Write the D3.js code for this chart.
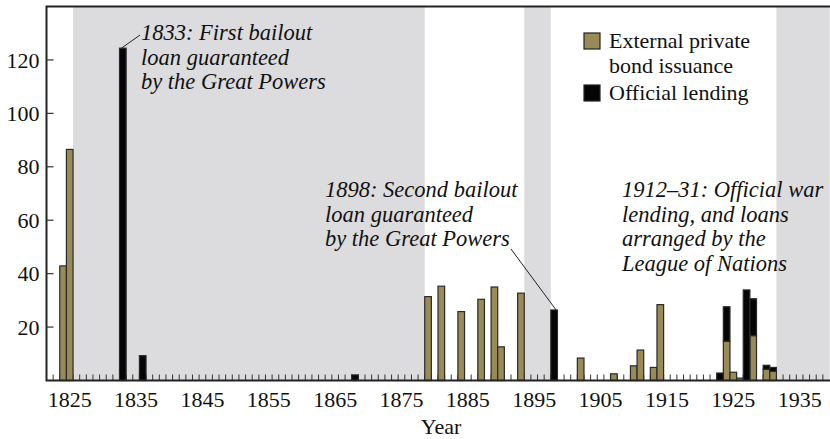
<!DOCTYPE html>
<html><head><meta charset="utf-8">
<script src="https://cdn.jsdelivr.net/npm/d3@7"></script>
<style>body{margin:0;background:#fff}svg{display:block}</style>
</head><body>
<svg id="chart" width="830" height="439"></svg>
<script>
const years    = [1824,1825,1833,1836,1868,1879,1881,1884,1887,1889,1890,1893,1898,1902,1907,1910,1911,1913,1914,1923,1924,1925,1926,1927,1928,1930,1931];
const privateBonds = [42.9,86.5,0,0,0,31.4,35.3,25.8,30.4,35,12.6,32.7,0,8.4,2.5,5.5,11.4,4.9,28.4,0,14.7,3.1,0.9,0,16.8,4.2,3.4];
const officialLending = [0,0,124.4,9.3,2.1,0,0,0,0,0,0,0,26.4,0,0,0,0,0,0,2.8,12.9,0,0,33.9,13.8,1.5,1.5];
const defaultPeriods = [[1826,1878],[1894,1897],[1932,1939]];
const yTicks = [20,40,60,80,100,120];
const xTickLabels = [1825,1835,1845,1855,1865,1875,1885,1895,1905,1915,1925,1935];
const seriesNames = ["External private bond issuance","Official lending"];
const colors = ["#988b58","#050505"];

(function(){
const svg = d3.select("#chart");
const pL = 46.5, pR = 829.5, pT = 6.5, pB = 380.5;
const x = d3.scaleLinear().domain([1821.5,1939.5]).range([pL,pR]);
const y = d3.scaleLinear().domain([0,140]).range([pB,pT]);
const font = "'Liberation Serif','Times New Roman',serif";
const fs = 22, fsi = 22.5;

svg.append("g").selectAll("rect").data(defaultPeriods).join("rect")
  .attr("x", d=>x(d[0]-0.5)).attr("width", d=>Math.min(x(d[1]+0.5),830)-x(d[0]-0.5))
  .attr("y", pT).attr("height", pB-pT).attr("fill","#dcdcde");

const boundaries = d3.range(1822,1940).map(v=>v-0.5);
svg.append("g").selectAll("line").data(boundaries).join("line")
  .attr("x1", d=>x(d)).attr("x2", d=>x(d))
  .attr("y1", pB).attr("y2", pB-6)
  .attr("stroke","#333").attr("stroke-width",1);

const table = years.map((yr,i)=>({year:yr, p:privateBonds[i], o:officialLending[i]}));
const stack = d3.stack().keys(["p","o"])(table);
svg.append("g").selectAll("g").data(stack).join("g")
  .attr("fill",(d,i)=>colors[i])
  .selectAll("rect").data(d=>d.filter(s=>s[1]-s[0]>0)).join("rect")
  .attr("x", d=>x(d.data.year-0.5)).attr("width", d=>x(d.data.year+0.5)-x(d.data.year-0.5))
  .attr("y", d=>y(d[1])).attr("height", d=>y(d[0])-y(d[1]))
  .attr("stroke","#2a2a2a").attr("stroke-width",1.2);

svg.append("path").attr("d",`M${pR+10},${pT}H${pL}V${pB}H${pR+10}`)
  .attr("fill","none").attr("stroke","#222").attr("stroke-width",2);

const yAxis = svg.append("g");
yAxis.selectAll("line").data(yTicks).join("line")
  .attr("x1",pL).attr("x2",pL+7).attr("y1",d=>y(d)).attr("y2",d=>y(d))
  .attr("stroke","#333").attr("stroke-width",1.2);
yAxis.selectAll("text").data(yTicks).join("text")
  .attr("x",39.5).attr("y",d=>y(d)).attr("dy","0.35em").attr("text-anchor","end")
  .attr("font-family",font).attr("font-size",fs).attr("fill","#111").text(d=>d);

svg.append("g").selectAll("text").data(xTickLabels).join("text")
  .attr("x",d=>x(d)).attr("y",406.5).attr("text-anchor","middle")
  .attr("font-family",font).attr("font-size",fs).attr("fill","#111").text(d=>d);
svg.append("text").attr("x",441).attr("y",434).attr("text-anchor","middle")
  .attr("font-family",font).attr("font-size",fs).attr("fill","#111").text("Year");

const lg = svg.append("g");
lg.append("rect").attr("x",584).attr("y",33).attr("width",16).attr("height",16).attr("fill",colors[0]).attr("stroke","#222").attr("stroke-width",1.2);
lg.append("rect").attr("x",584).attr("y",85).attr("width",16).attr("height",16).attr("fill",colors[1]).attr("stroke","#222").attr("stroke-width",1.2);
const lt = lg.append("text").attr("font-family",font).attr("font-size",fs).attr("fill","#111");
lt.append("tspan").attr("x",609).attr("y",48).text("External private");
lt.append("tspan").attr("x",609).attr("y",73).text("bond issuance");
lg.append("text").attr("x",609).attr("y",100).attr("font-family",font).attr("font-size",fs).attr("fill","#111").text("Official lending");

function note(lines, x0, y0){
  const t = svg.append("text").attr("font-family",font).attr("font-style","italic").attr("font-size",fsi).attr("fill","#111");
  lines.forEach((l,i)=>t.append("tspan").attr("x",x0).attr("y",y0+i*24.7).text(l));
}
note(["1833: First bailout","loan guaranteed","by the Great Powers"],141,40);
note(["1898: Second bailout","loan guaranteed","by the Great Powers"],325,197);
note(["1912–31: Official war","lending, and loans","arranged by the","League of Nations"],622,197);
svg.append("line").attr("x1",x(1833-0.2)).attr("y1",y(124.4)).attr("x2",140).attr("y2",35).attr("stroke","#222").attr("stroke-width",1);
svg.append("line").attr("x1",511).attr("y1",249).attr("x2",x(1898+0.3)).attr("y2",y(26.4)).attr("stroke","#222").attr("stroke-width",1);
})();
</script>
</body></html>
